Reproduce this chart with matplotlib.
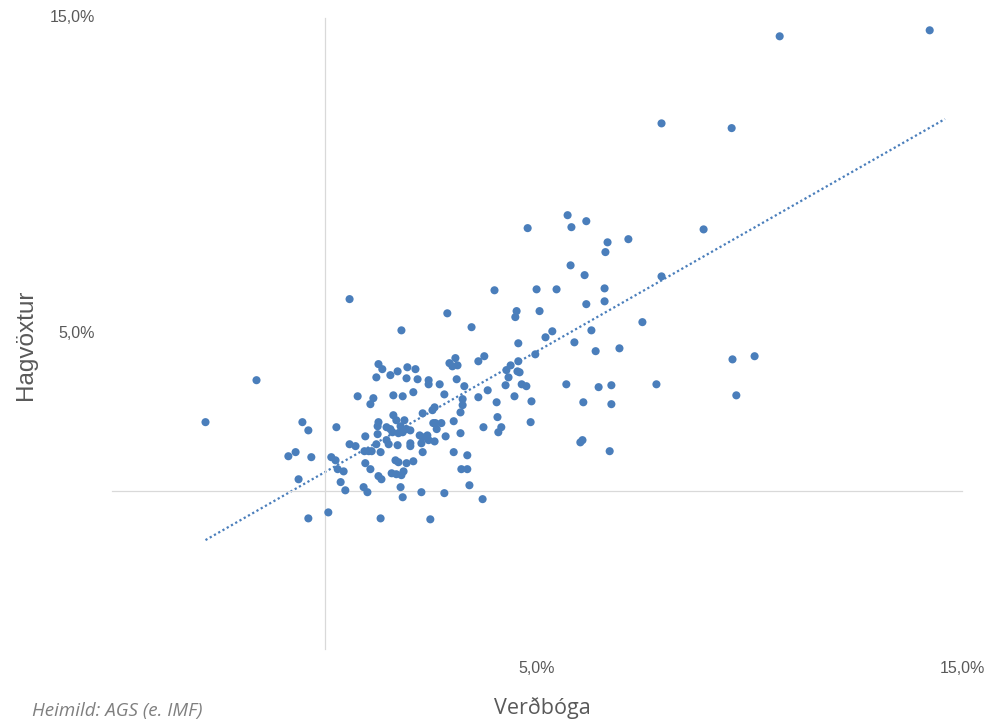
import numpy as np
import matplotlib
matplotlib.use('Agg')
import matplotlib.pyplot as plt

# Verðbóga (x) og hagvöxtur (y), % - lesið af mynd
verdbolga = [
    0.59, -1.60, -2.80, 1.27, 1.22, 0.78, 1.15, 1.08, -0.52, -0.38,
    0.28, 0.96, 1.27, 1.25, 1.25, 0.59, 0.73, 1.22, -0.85, -0.68,
    -0.31, 0.16, 0.26, 0.94, 1.04, 1.11, 1.32, 0.96, 1.08, 0.31,
    0.45, 1.27, -0.61, 0.38, 0.49, 0.92, 1.01, 0.09, -0.38, 1.32,
    4.00, 4.99, 5.46, 2.89, 4.52, 4.49, 5.06, 1.81, 3.46, 5.36,
    5.20, 4.56, 1.36, 1.55, 1.72, 1.95, 2.14, 1.93, 2.19, 2.45,
    2.45, 2.71, 2.94, 3.01, 3.08, 3.13, 3.11, 3.29, 3.62, 3.76,
    4.96, 4.56, 4.38, 4.28, 4.33, 4.54, 4.59, 4.26, 4.64, 4.75,
    5.69, 1.62, 1.84, 2.09, 2.82, 3.25, 3.25, 3.20, 3.62, 3.84,
    4.05, 4.47, 4.87, 2.59, 2.54, 2.31, 1.62, 4.07, 3.04, 4.85,
    1.88, 1.69, 1.79, 1.46, 1.55, 1.93, 1.84, 1.74, 2.02, 1.60,
    2.56, 2.61, 2.75, 2.64, 3.74, 4.16, 4.09, 2.24, 2.31, 2.42,
    2.45, 2.59, 2.28, 2.85, 3.20, 1.46, 1.51, 1.72, 2.02, 2.02,
    2.31, 3.04, 3.36, 1.67, 1.74, 1.93, 2.09, 3.22, 3.36, 1.58,
    1.69, 1.81, 1.86, 1.34, 1.79, 3.41, 2.28, 2.82, 1.84, 3.72,
    2.49, 5.72, 5.81, 6.16, 6.66, 6.61, 7.15, 8.92, 5.79, 6.12,
    6.59, 7.93, 6.16, 6.59, 7.48, 6.28, 5.88, 6.38, 6.94, 9.60,
    10.12, 6.45, 6.75, 7.81, 6.09, 6.75, 9.69, 6.02, 6.07, 6.71,
    10.71, 14.24, 7.93, 9.58, 4.78,
]
hagvoxtur = [
    6.09, 3.52, 2.19, 4.03, 3.61, 3.01, 2.95, 2.76, 2.19, 1.93,
    2.03, 1.74, 2.19, 2.06, 1.81, 1.49, 1.43, 1.49, 1.11, 1.24,
    1.08, 1.08, 0.98, 1.27, 1.27, 1.27, 1.24, 0.89, 0.70, 0.70,
    0.63, 0.48, 0.38, 0.29, 0.03, 0.13, -0.03, -0.67, -0.86, -0.86,
    6.37, 6.40, 6.40, 5.64, 5.71, 5.52, 5.71, 5.10, 5.20, 5.07,
    4.88, 4.69, 3.87, 3.68, 3.80, 3.93, 3.87, 3.58, 3.55, 3.52,
    3.39, 3.39, 4.06, 3.96, 4.22, 3.99, 3.55, 3.33, 4.12, 4.28,
    4.34, 4.12, 3.99, 3.84, 3.61, 3.80, 3.77, 3.36, 3.39, 3.33,
    3.39, 3.04, 3.01, 3.14, 3.07, 2.92, 2.73, 2.50, 2.98, 3.20,
    2.82, 3.01, 2.85, 2.66, 2.57, 2.47, 2.41, 2.35, 2.22, 2.19,
    2.25, 2.25, 2.06, 2.03, 1.97, 1.97, 1.87, 1.84, 1.93, 1.87,
    2.16, 2.16, 2.16, 1.97, 2.03, 2.03, 1.87, 1.77, 1.71, 1.77,
    1.62, 1.58, 1.52, 1.74, 1.84, 1.62, 1.49, 1.46, 1.52, 1.43,
    1.24, 1.24, 1.14, 0.98, 0.92, 0.89, 0.95, 0.70, 0.70, 0.57,
    0.54, 0.51, 0.63, 0.38, 0.13, 0.19, -0.03, -0.06, -0.19, -0.25,
    -0.89, 8.75, 8.37, 8.56, 7.89, 7.58, 7.99, 8.30, 7.16, 6.85,
    6.43, 6.81, 5.93, 6.02, 5.36, 5.10, 4.72, 4.44, 4.53, 4.18,
    4.28, 3.30, 3.36, 3.39, 2.82, 2.76, 3.04, 1.55, 1.62, 1.27,
    14.42, 14.61, 11.66, 11.51, 8.34,
]

# leitnilína eins og hún er lesin af myndinni
trend_x = [-2.8, 14.6]
trend_slope = 0.767
trend_const = 0.60

x_ticks = [5, 15]
y_ticks = [5, 15]
tick_labels = ['5,0%', '15,0%']

blue = '#4a7ebb'
grey = '#595959'

fig = plt.figure(figsize=(9.92, 7.27), dpi=100)
ax = fig.add_axes([112 / 992, 1 - 649 / 727, 850 / 992, 631 / 727])

ax.scatter(verdbolga, hagvoxtur, s=34, color=blue, edgecolors='none', zorder=3)

xl = np.array(trend_x)
ax.plot(xl, trend_slope * xl + trend_const, color=blue, linestyle=(0, (1, 1.2)),
        linewidth=1.6, zorder=2)

ax.set_xlim(-5, 15)
ax.set_ylim(-5, 15)
for s in ['top', 'right']:
    ax.spines[s].set_visible(False)
for s in ['left', 'bottom']:
    ax.spines[s].set_position(('data', 0))
    ax.spines[s].set_color('#d9d9d9')
    ax.spines[s].set_linewidth(0.9)
ax.set_xticks([])
ax.set_yticks([])

# ásamerki neðst og vinstra megin (eins og "low" í Excel)
for v, lab in zip(x_ticks, tick_labels):
    ax.annotate(lab, (v, -5), xytext=(0, -14), textcoords='offset points',
                ha='center', va='center', fontsize=11.5, color=grey,
                family='Liberation Sans', annotation_clip=False)
for v, lab in zip(y_ticks, tick_labels):
    ax.annotate(lab, (-5, v), xytext=(-12, 0), textcoords='offset points',
                ha='right', va='center', fontsize=11.5, color=grey,
                family='Liberation Sans', annotation_clip=False)

fig.text(26 / 992, 1 - 345 / 727, 'Hagvöxtur', rotation=90, ha='center', va='center',
         fontsize=17.5, color=grey, family='Liberation Sans')
fig.text(542 / 992, 1 - 708 / 727, 'Verðbóga', ha='center', va='center',
         fontsize=15.5, color=grey, family='Open Sans')
fig.text(32 / 992, 1 - 711 / 727, 'Heimild: AGS (e. IMF)', ha='left', va='center',
         fontsize=13.5, color='#7f7f7f', family='Open Sans', style='italic')

fig.savefig('out.png', dpi=100)
